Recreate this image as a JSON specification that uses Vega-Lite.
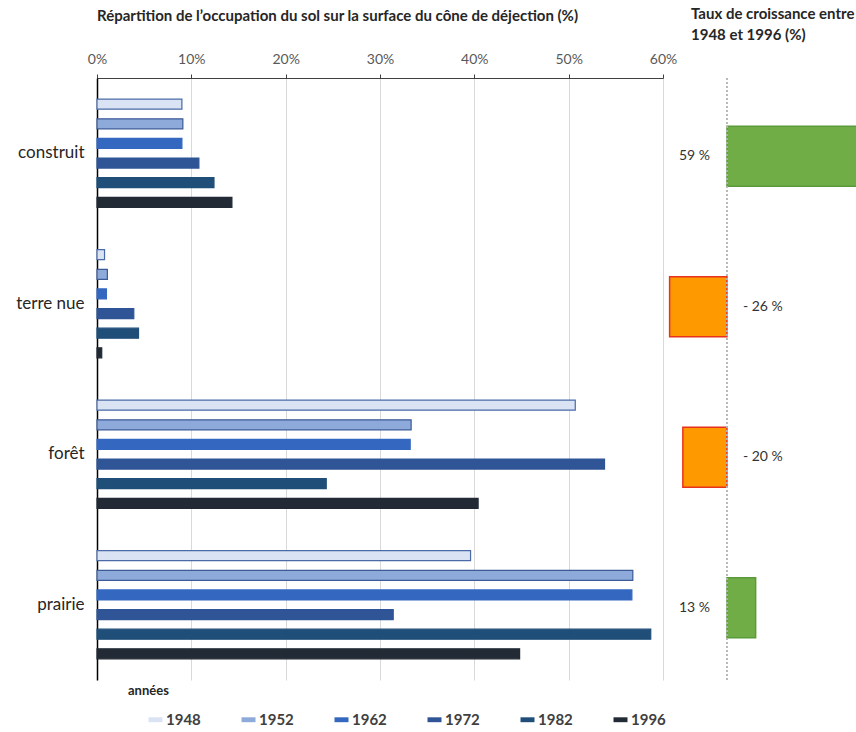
{
  "$schema": "https://vega.github.io/schema/vega-lite/v6.json",
  "padding": {"top": 6, "left": 0, "right": 0, "bottom": 0},
  "autosize": {"type": "pad"},
  "background": "white",
  "bounds": "flush",
  "spacing": 0,
  "config": {"view": {"stroke": null}, "font": "Lato"},
  "datasets": {
    "occupation": [
      {"cat": "construit", "year": "1948", "value": 9.0},
      {"cat": "construit", "year": "1952", "value": 9.1},
      {"cat": "construit", "year": "1962", "value": 9.0},
      {"cat": "construit", "year": "1972", "value": 10.8},
      {"cat": "construit", "year": "1982", "value": 12.4},
      {"cat": "construit", "year": "1996", "value": 14.3},
      {"cat": "terre nue", "year": "1948", "value": 0.8},
      {"cat": "terre nue", "year": "1952", "value": 1.1},
      {"cat": "terre nue", "year": "1962", "value": 1.0},
      {"cat": "terre nue", "year": "1972", "value": 3.9},
      {"cat": "terre nue", "year": "1982", "value": 4.4},
      {"cat": "terre nue", "year": "1996", "value": 0.5},
      {"cat": "forêt", "year": "1948", "value": 50.7},
      {"cat": "forêt", "year": "1952", "value": 33.3},
      {"cat": "forêt", "year": "1962", "value": 33.2},
      {"cat": "forêt", "year": "1972", "value": 53.8},
      {"cat": "forêt", "year": "1982", "value": 24.3},
      {"cat": "forêt", "year": "1996", "value": 40.4},
      {"cat": "prairie", "year": "1948", "value": 39.6},
      {"cat": "prairie", "year": "1952", "value": 56.8},
      {"cat": "prairie", "year": "1962", "value": 56.7},
      {"cat": "prairie", "year": "1972", "value": 31.4},
      {"cat": "prairie", "year": "1982", "value": 58.7},
      {"cat": "prairie", "year": "1996", "value": 44.8}
    ],
    "croissance": [
      {"cat": "construit", "growth": 59, "label": "59 %"},
      {"cat": "terre nue", "growth": -26, "label": "- 26 %"},
      {"cat": "forêt", "growth": -20, "label": "- 20 %"},
      {"cat": "prairie", "growth": 13, "label": "13 %"}
    ]
  },
  "hconcat": [
    {
      "width": 566,
      "height": 602,
      "title": {"text": "Répartition de l’occupation du sol sur la surface du cône de déjection (%)", "anchor": "start", "frame": "group", "fontSize": 15, "fontWeight": "bold", "color": "#262626", "offset": 28},
      "data": {"name": "occupation"},
      "mark": {"type": "bar", "strokeWidth": 1.2},
      "encoding": {
        "y": {"field": "cat", "type": "nominal", "sort": ["construit", "terre nue", "forêt", "prairie"],
              "scale": {"paddingInner": 0.282, "paddingOuter": 0.141},
              "axis": {"title": null, "ticks": false, "domainColor": "#000000", "domainWidth": 1.5, "labelFontSize": 17, "labelColor": "#262626", "labelPadding": 13, "minExtent": 97, "maxExtent": 97}},
        "yOffset": {"field": "year", "type": "nominal", "scale": {"paddingInner": 0.49, "paddingOuter": 0}},
        "x": {"field": "value", "type": "quantitative", "scale": {"domain": [0, 60], "nice": false},
              "axis": {"orient": "top", "title": null, "values": [0, 10, 20, 30, 40, 50, 60], "labelExpr": "datum.value + '%'", "labelFlush": false, "grid": true, "gridColor": "#d9d9d9", "domainColor": "#404040", "tickColor": "#404040", "tickSize": 4, "labelFontSize": 14, "labelColor": "#595959", "labelPadding": 8}},
        "color": {"field": "year", "type": "nominal",
                  "scale": {"domain": ["1948", "1952", "1962", "1972", "1982", "1996"], "range": ["#dae3f3", "#8eaadb", "#3468c0", "#2f5597", "#1f4e79", "#222a35"]},
                  "legend": {"orient": "none", "legendX": 31, "legendY": 607, "direction": "horizontal", "columns": 6, "title": "années", "titleFontSize": 13, "titleFontWeight": "bold", "titleColor": "#262626", "titlePadding": 14, "symbolType": "M-1,-0.35H1V0.35H-1Z", "symbolSize": 196, "symbolStrokeWidth": 0, "labelFontSize": 15, "labelFontWeight": "bold", "labelColor": "#404040", "labelOffset": 3, "columnPadding": 20, "symbolOffset": 20}},
        "stroke": {"field": "year", "type": "nominal",
                   "scale": {"domain": ["1948", "1952", "1962", "1972", "1982", "1996"], "range": ["#4a6aa8", "#3b5a96", "#3468c0", "#2f5597", "#1f4e79", "#222a35"]},
                   "legend": null}
      }
    },
    {
      "width": 193,
      "height": 602,
      "title": {"text": ["Taux de croissance entre", "1948 et 1996 (%)"], "anchor": "start", "frame": "group", "dx": 28, "fontSize": 15, "fontWeight": "bold", "lineHeight": 21, "color": "#262626", "offset": 35},
      "data": {"name": "croissance"},
      "layer": [
        {
          "mark": {"type": "bar", "strokeWidth": 1.5, "yOffset": 3},
          "encoding": {
            "y": {"field": "cat", "type": "nominal", "sort": ["construit", "terre nue", "forêt", "prairie"], "scale": {"paddingInner": 0.6, "paddingOuter": 0.3}, "axis": null},
            "x": {"field": "growth", "type": "quantitative", "scale": {"domain": [-29, 58.5], "nice": false}, "axis": null},
            "color": {"condition": {"test": "datum.growth > 0", "value": "#70ad47"}, "value": "#ff9900"},
            "stroke": {"condition": {"test": "datum.growth > 0", "value": "#5a9a3a"}, "value": "#e8321e"}
          }
        },
        {
          "mark": {"type": "rule", "strokeDash": [2, 2], "color": "#b4b4b4"},
          "encoding": {"x": {"datum": 0}}
        },
        {
          "transform": [{"filter": "datum.growth > 0"}],
          "mark": {"type": "text", "align": "right", "dx": -17, "dy": 3, "fontSize": 14, "color": "#333333"},
          "encoding": {
            "y": {"field": "cat", "type": "nominal", "sort": ["construit", "terre nue", "forêt", "prairie"]},
            "x": {"datum": 0},
            "text": {"field": "label"}
          }
        },
        {
          "transform": [{"filter": "datum.growth < 0"}],
          "mark": {"type": "text", "align": "left", "dx": 16, "dy": 3, "fontSize": 14, "color": "#333333"},
          "encoding": {
            "y": {"field": "cat", "type": "nominal", "sort": ["construit", "terre nue", "forêt", "prairie"]},
            "x": {"datum": 0},
            "text": {"field": "label"}
          }
        }
      ]
    }
  ]
}
